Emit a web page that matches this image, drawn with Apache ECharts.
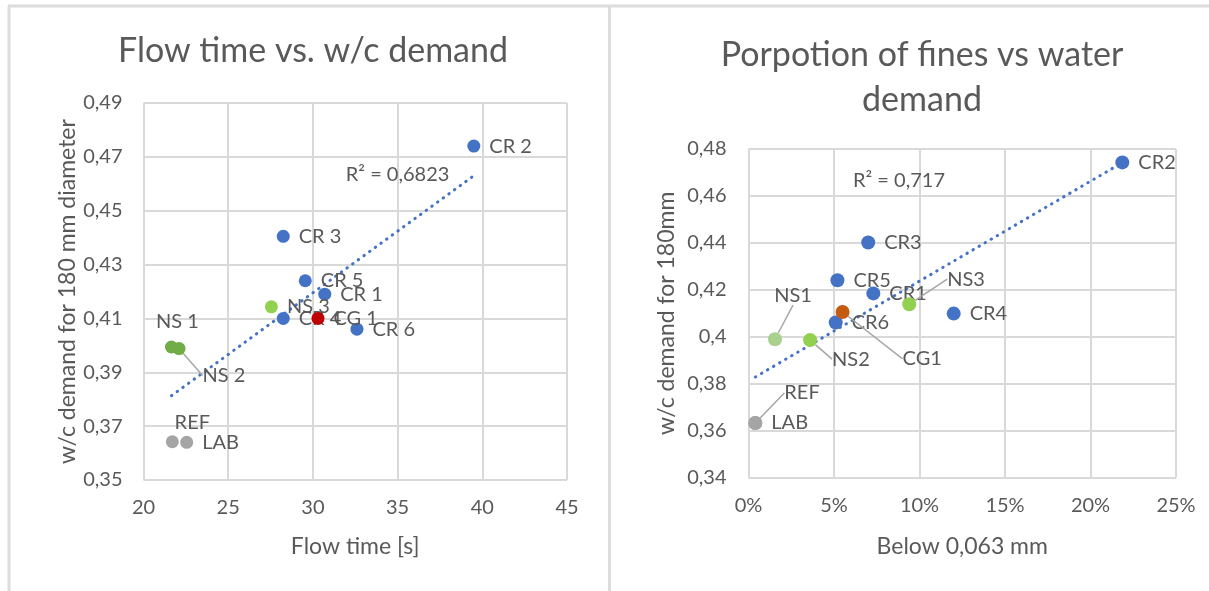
<!DOCTYPE html>
<html>
<head>
<meta charset="utf-8">
<script src="https://cdn.jsdelivr.net/npm/echarts@6/dist/echarts.min.js"></script>
<style>
html, body { margin: 0; padding: 0; background: #fff; }
#main { width: 1209px; height: 591px; }
</style>
</head>
<body>
<div id="main"></div>
<script>
// left chart: flow time vs w/c demand
var flowNames = ['CR 1', 'CR 2', 'CR 3', 'CR 4', 'CR 5', 'CR 6', 'NS 1', 'NS 2', 'NS 3', 'CG 1', 'REF', 'LAB'];
var flowTime  = [30.7, 39.5, 28.25, 28.25, 29.55, 32.6, 21.65, 22.1, 27.55, 30.3, 21.7, 22.55];
var flowWc    = [0.419, 0.474, 0.4405, 0.410, 0.424, 0.406, 0.3994, 0.3988, 0.4143, 0.410, 0.3642, 0.364];
var flowTrend = [[21.65, 0.3813], [39.5, 0.4630]];
var flowR2 = '0,6823';

// right chart: fines (% below 0,063 mm) vs w/c demand
var fineNames = ['CR1', 'CR2', 'CR3', 'CR4', 'CR5', 'CR6', 'NS1', 'NS2', 'NS3', 'CG1', 'REF', 'LAB'];
var finesPct  = [7.3, 21.86, 7.0, 12.0, 5.2, 5.1, 1.55, 3.6, 9.4, 5.5, 0.4, 0.4];
var finesWc   = [0.4185, 0.4743, 0.4402, 0.4099, 0.4241, 0.4061, 0.399, 0.3986, 0.4139, 0.4106, 0.3633, 0.3633];
var finesTrend = [[0.4, 0.3829], [21.86, 0.4742]];
var finesR2 = '0,717';

var grey = '#595959';
var font = 'Lato';

// label placement tweaks (pixels relative to default spot), with leader lines
var flowMoves = {
  'NS 1': { pos: 'top', dx: 6, dy: 0 },
  'NS 2': { dx: 8, dy: 27, line: true },
  'REF':  { pos: 'top', dx: 20, dy: 6 }
};
var fineMoves = {
  'NS1': { pos: 'top', dx: 18, dy: -18, line: true },
  'NS2': { dx: 6, dy: 19, line: true },
  'NS3': { dx: 22, dy: -25, line: true },
  'CG1': { dx: 44, dy: 47, line: true },
  'REF': { dx: 13, dy: -30, line: true }
};

function items(names, xs, ys, pick, moves) {
  return pick.map(function (n) {
    var i = names.indexOf(n);
    var it = { name: n, value: [xs[i], ys[i]] };
    var m = moves[n];
    if (m && m.pos) it.label = { position: m.pos };
    if (m && m.line) it.labelLine = { show: true };
    return it;
  });
}

function scatter(idx, names, xs, ys, pick, color, moves, size, z) {
  return {
    type: 'scatter',
    xAxisIndex: idx, yAxisIndex: idx,
    symbolSize: size,
    z: z,
    itemStyle: { color: color, opacity: 1 },
    label: {
      show: true, position: 'right', distance: 9, formatter: '{b}',
      color: grey, fontFamily: font, fontSize: 20
    },
    labelLine: { lineStyle: { color: '#a6a6a6', width: 1.5 } },
    labelLayout: function (p) {
      var m = moves[p.text];
      if (!m) return {};
      return { dx: m.dx, dy: m.dy };
    },
    data: items(names, xs, ys, pick, moves)
  };
}

function trend(idx, pts, r2pos, r2) {
  return {
    type: 'line',
    xAxisIndex: idx, yAxisIndex: idx,
    symbol: 'none', silent: true, z: 1,
    lineStyle: { color: '#4472C4', width: 3, type: [0.5, 6.5], cap: 'round' },
    data: pts,
    markPoint: {
      symbol: 'circle', symbolSize: 0, silent: true,
      label: { show: true, position: 'inside', formatter: 'R² = ' + r2, color: grey, fontFamily: font, fontSize: 20 },
      data: [{ coord: r2pos }]
    }
  };
}

function comma2(v) { return v.toFixed(2).replace('.', ','); }
function commaShort(v) { return String(Number(v.toFixed(2))).replace('.', ','); }

var axisText = { color: grey, fontFamily: font, fontSize: 20 };
var nameText = { color: grey, fontFamily: font, fontSize: 23 };
var split = { show: true, lineStyle: { color: '#d9d9d9', width: 2 } };

var chart = echarts.init(document.getElementById('main'));
chart.setOption({
  backgroundColor: '#fff',
  animation: false,
  title: [
    { text: 'Flow time vs. w/c demand', left: 308, top: 29, textAlign: 'center',
      textStyle: { color: grey, fontFamily: font, fontSize: 34, fontWeight: 'normal' } },
    { text: 'Porpotion of fines vs water\ndemand', left: 917, top: 28, textAlign: 'center',
      textStyle: { color: grey, fontFamily: font, fontSize: 34, fontWeight: 'normal', lineHeight: 45 } }
  ],
  grid: [
    { left: 143.5, top: 103, width: 423.5, height: 377 },
    { left: 748.5, top: 149, width: 427.5, height: 328.7 }
  ],
  xAxis: [
    { type: 'value', gridIndex: 0, min: 20, max: 45, interval: 5,
      name: 'Flow time [s]', nameLocation: 'middle', nameGap: 55, nameTextStyle: nameText,
      axisLine: { show: false }, axisTick: { show: false },
      axisLabel: Object.assign({ margin: 18 }, axisText), splitLine: split },
    { type: 'value', gridIndex: 1, min: 0, max: 25, interval: 5,
      name: 'Below 0,063 mm', nameLocation: 'middle', nameGap: 57, nameTextStyle: nameText,
      axisLine: { show: false }, axisTick: { show: false },
      axisLabel: Object.assign({ margin: 18, formatter: '{value}%' }, axisText), splitLine: split }
  ],
  yAxis: [
    { type: 'value', gridIndex: 0, min: 0.35, max: 0.49, interval: 0.02,
      name: 'w/c demand for 180 mm diameter', nameLocation: 'middle', nameGap: 63, nameRotate: 90, nameTextStyle: nameText,
      axisLine: { show: false }, axisTick: { show: false },
      axisLabel: Object.assign({ margin: 21, formatter: comma2 }, axisText), splitLine: split },
    { type: 'value', gridIndex: 1, min: 0.34, max: 0.48, interval: 0.02,
      name: 'w/c demand for 180mm', nameLocation: 'middle', nameGap: 70, nameRotate: 90, nameTextStyle: nameText,
      axisLine: { show: false }, axisTick: { show: false },
      axisLabel: Object.assign({ margin: 22, formatter: commaShort }, axisText), splitLine: split }
  ],
  graphic: [
    { type: 'line', shape: { x1: 8, y1: 6, x2: 1209, y2: 6 }, style: { stroke: '#dcdcdc', lineWidth: 3 }, silent: true },
    { type: 'line', shape: { x1: 9, y1: 6, x2: 9, y2: 591 }, style: { stroke: '#dcdcdc', lineWidth: 3 }, silent: true },
    { type: 'line', shape: { x1: 609.5, y1: 6, x2: 609.5, y2: 591 }, style: { stroke: '#dcdcdc', lineWidth: 3 }, silent: true }
  ],
  series: [
    trend(0, flowTrend, [35.0, 0.4633], flowR2),
    scatter(0, flowNames, flowTime, flowWc, ['CR 1', 'CR 2', 'CR 3', 'CR 4', 'CR 5', 'CR 6'], '#4472C4', flowMoves, 13, 2),
    scatter(0, flowNames, flowTime, flowWc, ['NS 1', 'NS 2'], '#70AD47', flowMoves, 13, 3),
    scatter(0, flowNames, flowTime, flowWc, ['NS 3'], '#92D050', flowMoves, 13, 3),
    scatter(0, flowNames, flowTime, flowWc, ['CG 1'], '#C00000', flowMoves, 13, 4),
    scatter(0, flowNames, flowTime, flowWc, ['REF', 'LAB'], '#A5A5A5', flowMoves, 13, 3),

    trend(1, finesTrend, [8.8, 0.4664], finesR2),
    scatter(1, fineNames, finesPct, finesWc, ['CR1', 'CR2', 'CR3', 'CR4', 'CR5', 'CR6'], '#4472C4', fineMoves, 14, 2),
    scatter(1, fineNames, finesPct, finesWc, ['NS1'], '#A9D18E', fineMoves, 14, 3),
    scatter(1, fineNames, finesPct, finesWc, ['NS2', 'NS3'], '#92D050', fineMoves, 14, 3),
    scatter(1, fineNames, finesPct, finesWc, ['CG1'], '#C55A11', fineMoves, 14, 4),
    scatter(1, fineNames, finesPct, finesWc, ['REF', 'LAB'], '#A5A5A5', fineMoves, 14, 3)
  ]
});
</script>
</body>
</html>
